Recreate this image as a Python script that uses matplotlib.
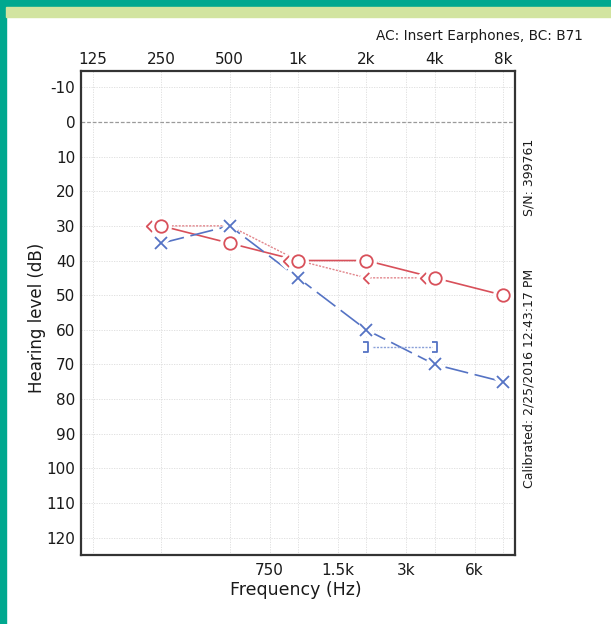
import matplotlib

matplotlib.use("Agg")
import matplotlib.pyplot as plt
import matplotlib.transforms as mtransforms
from matplotlib.patches import Rectangle
from matplotlib.path import Path

# ---- data ----
FREQS = [250, 500, 1000, 2000, 4000, 8000]
RIGHT_AC = [30, 35, 40, 40, 45, 50]
LEFT_AC = [35, 30, 45, 60, 70, 75]
RIGHT_BC_FREQS = [250, 500, 1000, 2000, 4000]
RIGHT_BC = [30, 30, 40, 45, 45]
LEFT_BC_FREQS = [2000, 4000]
LEFT_BC = [65, 65]

TOP_TICKS = [125, 250, 500, 1000, 2000, 4000, 8000]
TOP_LABELS = ["125", "250", "500", "1k", "2k", "4k", "8k"]
BOTTOM_TICKS = [750, 1500, 3000, 6000]
BOTTOM_LABELS = ["750", "1.5k", "3k", "6k"]
Y_TICKS = list(range(-10, 121, 10))

RED = "#d8505a"
RED_LIGHT = "#e2868c"
BLUE = "#5573c4"
BLUE_LIGHT = "#8aa0d8"
TEXT = "#1a1a1a"

# open-path markers: "<" and "]"
BC_RIGHT_MARK = Path([(0.5, 1.0), (-0.5, 0.0), (0.5, -1.0)],
                     [Path.MOVETO, Path.LINETO, Path.LINETO])
BC_LEFT_MARK = Path([(-0.6, 1.0), (0.4, 1.0), (0.4, -1.0), (-0.6, -1.0)],
                    [Path.MOVETO, Path.LINETO, Path.LINETO, Path.LINETO])

plt.rcParams["font.family"] = ["DejaVu Sans"]

fig = plt.figure(figsize=(6.11, 6.24), dpi=100)

# green frame of the page
fig.patches.append(Rectangle((0, 0), 6 / 611, 1, transform=fig.transFigure,
                             color="#00a88f", zorder=0))
fig.patches.append(Rectangle((0, 1 - 7 / 624), 1, 7 / 624, transform=fig.transFigure,
                             color="#00a88f", zorder=0))
fig.patches.append(Rectangle((6 / 611, 1 - 17 / 624), 1, 10 / 624,
                             transform=fig.transFigure, color="#d2e4a0", zorder=0))

ax = fig.add_axes([81 / 611, 1 - 555 / 624, 434 / 611, 484 / 624])
ax.set_xscale("log", base=2)
ax.set_xlim(125 * 2 ** -0.175, 8000 * 2 ** 0.175)
ax.set_ylim(125, -14.7)

# grid
for f in TOP_TICKS + BOTTOM_TICKS:
    ax.axvline(f, color="#dcdcdc", lw=0.6, ls=(0, (1.5, 1.5)), zorder=1)
for y in Y_TICKS:
    if y == 0:
        ax.axhline(y, color="#9a9a9a", lw=0.9, ls=(0, (3, 1.5)), zorder=1)
    else:
        ax.axhline(y, color="#dcdcdc", lw=0.6, ls=(0, (1.5, 1.5)), zorder=1)

# lines
ax.plot(FREQS, RIGHT_AC, color=RED, lw=1.2, zorder=2)
ax.plot(FREQS, LEFT_AC, color=BLUE, lw=1.2, ls=(0, (14, 4)), zorder=2)
ax.plot(RIGHT_BC_FREQS, RIGHT_BC, color=RED_LIGHT, lw=1.0, ls=(0, (1.5, 1)), zorder=2)
ax.plot(LEFT_BC_FREQS, LEFT_BC, color=BLUE_LIGHT, lw=1.0, ls=(0, (1.5, 1)), zorder=2)


def marks(x, y, marker, color, ms, trans=None, z=4, fill="none"):
    kw = {} if trans is None else {"transform": trans}
    # white halo so the connecting lines stop short of the symbol
    ax.plot(x, y, ls="none", marker=marker, ms=ms, mew=6, mec="white",
            mfc="white" if fill != "none" else "none", zorder=z, **kw)
    ax.plot(x, y, ls="none", marker=marker, ms=ms, mew=1.3, mec=color,
            mfc=fill, zorder=z + 1, **kw)


# BC symbols shifted left where they share the AC threshold
shift = mtransforms.offset_copy(ax.transData, fig=fig, x=-12, y=0, units="dots")
for f, v in zip(RIGHT_BC_FREQS, RIGHT_BC):
    ac = RIGHT_AC[FREQS.index(f)]
    marks([f], [v], BC_RIGHT_MARK, RED, 8, shift if ac == v else None, z=3)
marks(LEFT_BC_FREQS, LEFT_BC, BC_LEFT_MARK, BLUE, 7, z=3)
marks(FREQS, RIGHT_AC, "o", RED, 9, fill="white")
marks(FREQS, LEFT_AC, "x", BLUE, 9)

# ticks
ax.set_yticks(Y_TICKS)
ax.set_yticklabels([str(v) for v in Y_TICKS])
ax.set_xticks(BOTTOM_TICKS)
ax.set_xticklabels(BOTTOM_LABELS)
ax.minorticks_off()
ax.tick_params(axis="both", length=0, labelsize=11, colors=TEXT)
ax.tick_params(axis="y", pad=4)
ax.tick_params(axis="x", pad=6)

top = ax.secondary_xaxis("top")
top.set_xticks(TOP_TICKS)
top.set_xticklabels(TOP_LABELS)
top.minorticks_off()
top.tick_params(length=0, labelsize=11, colors=TEXT, pad=3)
top.spines["top"].set_visible(False)

for s in ax.spines.values():
    s.set_color("#333333")
    s.set_linewidth(1.6)

fig.text(37 / 611, 1 - 318 / 624, "Hearing level (dB)", rotation=90,
         ha="center", va="center", fontsize=12, color=TEXT)
fig.text(296 / 611, 1 - 590 / 624, "Frequency (Hz)", ha="center", va="center",
         fontsize=12.5, color=TEXT)
fig.text(583 / 611, 1 - 36 / 624, "AC: Insert Earphones, BC: B71", ha="right",
         va="center", fontsize=9.8, color=TEXT)
fig.text(529 / 611, 1 - 177 / 624, "S/N: 399761", rotation=90, ha="center",
         va="center", fontsize=9, color=TEXT)
fig.text(529 / 611, 1 - 378 / 624, "Calibrated: 2/25/2016 12:43:17 PM", rotation=90,
         ha="center", va="center", fontsize=9, color=TEXT)

fig.savefig("out.png", dpi=100)
